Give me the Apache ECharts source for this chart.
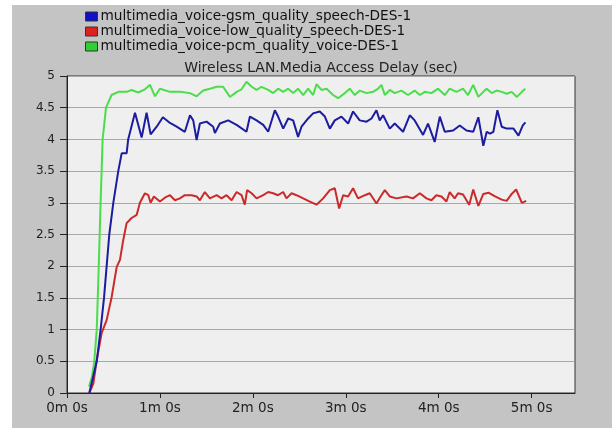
<!DOCTYPE html>
<html>
<head>
<meta charset="utf-8">
<script src="https://cdn.jsdelivr.net/npm/echarts@6/dist/echarts.min.js"></script>
<style>
html,body{margin:0;padding:0;background:#fff;}
#c{width:612px;height:428px;}
</style>
</head>
<body>
<div id="c"></div>
<script>
// ---- data (time in seconds, delay in seconds) ----
const seriesNames = [
  "multimedia_voice-gsm_quality_speech-DES-1",
  "multimedia_voice-low_quality_speech-DES-1",
  "multimedia_voice-pcm_quality_voice-DES-1"
];
const xTickValues = [0,60,120,180,240,300];
const xTickLabels = ["0m 0s","1m 0s","2m 0s","3m 0s","4m 0s","5m 0s"];
const yTickLabels = ["0","0.5","1","1.5","2","2.5","3","3.5","4","4.5","5"];

const gsmTime = [14.4,16.8,19.2,21.7,23.9,25.6,27.3,29.9,33.1,35.3,38.5,39.5,43.9,48.2,51.4,54.0,57.9,61.9,66.5,70.8,76.1,79.4,81.5,83.7,85.8,90.1,94.4,95.5,98.7,104.1,109.5,115.9,118.1,122.4,126.7,129.9,134.2,136.3,139.6,142.8,146.0,149.2,151.4,155.7,158.9,163.2,166.5,169.7,172.9,177.2,181.5,184.7,189.0,193.4,196.6,199.8,201.9,204.1,208.4,211.6,217.0,221.3,224.5,229.9,233.1,237.4,240.7,243.9,249.3,253.6,257.9,262.3,265.6,268.8,271.0,273.1,275.3,277.9,280.7,283.9,288.3,291.5,294.3,296.0];
const gsmDelay = [0,0.25,0.5,1.0,1.5,2.0,2.5,3.0,3.5,3.78,3.78,4.0,4.42,4.03,4.42,4.08,4.2,4.35,4.26,4.2,4.12,4.38,4.3,3.99,4.25,4.28,4.2,4.1,4.25,4.3,4.23,4.12,4.36,4.3,4.23,4.12,4.46,4.36,4.17,4.33,4.3,4.04,4.2,4.33,4.41,4.44,4.36,4.17,4.3,4.36,4.25,4.44,4.3,4.28,4.33,4.46,4.3,4.38,4.17,4.25,4.12,4.38,4.3,4.07,4.25,3.96,4.36,4.12,4.14,4.22,4.14,4.12,4.35,3.9,4.12,4.09,4.12,4.46,4.2,4.17,4.17,4.06,4.22,4.27];

const lowTime = [14.4,17.0,19.2,22.4,25.6,28.8,32.1,34.2,36.3,38.5,41.7,45.0,47.1,50.3,52.5,54.0,56.1,60.0,63.2,66.5,69.7,72.9,76.1,80.5,83.7,85.8,89.0,92.3,96.6,99.8,103.0,106.3,109.5,112.7,114.8,116.3,119.2,122.4,126.7,129.9,133.1,136.3,139.6,141.7,145.0,148.2,152.5,156.8,161.1,165.4,169.7,172.9,175.7,178.3,181.5,184.7,187.9,192.3,195.5,199.8,203.0,205.2,208.4,212.7,219.2,223.4,227.8,232.1,235.3,238.5,241.8,245.0,247.1,250.3,252.5,255.7,259.7,262.3,265.6,268.8,272.1,276.4,280.7,283.9,287.1,290.0,293.7,296.5];
const lowDelay = [0,0.15,0.52,0.95,1.15,1.51,1.99,2.1,2.41,2.68,2.76,2.81,3.0,3.15,3.12,3.0,3.1,3.02,3.08,3.12,3.04,3.07,3.12,3.12,3.1,3.04,3.17,3.07,3.12,3.07,3.12,3.04,3.17,3.12,2.97,3.2,3.15,3.07,3.12,3.17,3.15,3.12,3.17,3.07,3.15,3.12,3.07,3.02,2.97,3.07,3.2,3.23,2.91,3.12,3.1,3.23,3.07,3.12,3.15,2.99,3.12,3.2,3.1,3.07,3.1,3.07,3.15,3.07,3.04,3.12,3.1,3.02,3.17,3.07,3.15,3.13,2.97,3.21,2.95,3.14,3.16,3.1,3.05,3.03,3.14,3.21,3.0,3.03];

const pcmTime = [14.2,16.1,17.6,19.2,20.5,21.7,23.0,25.2,28.8,33.1,38.5,41.7,46.0,50.3,53.6,56.8,60.0,66.5,72.9,79.4,83.7,87.9,92.3,96.6,100.8,105.2,109.5,112.7,115.9,119.2,122.4,125.6,129.9,133.1,136.3,139.6,142.8,146.0,149.2,152.5,155.7,158.9,161.1,164.3,167.6,171.8,175.0,179.4,182.6,185.8,189.0,193.4,197.6,200.9,203.0,205.2,208.4,211.6,215.9,220.2,224.5,227.8,231.0,235.3,239.6,243.9,247.1,251.4,255.7,258.9,262.3,265.6,268.8,271.0,274.2,277.4,280.7,283.9,287.1,290.5,293.7,295.9];
const pcmDelay = [0.1,0.25,0.5,1.0,2.0,3.0,4.0,4.5,4.7,4.75,4.75,4.78,4.74,4.79,4.86,4.68,4.8,4.75,4.75,4.73,4.68,4.77,4.8,4.83,4.83,4.67,4.75,4.79,4.91,4.83,4.78,4.83,4.78,4.73,4.8,4.75,4.8,4.73,4.8,4.7,4.8,4.7,4.87,4.78,4.8,4.7,4.65,4.73,4.8,4.7,4.77,4.73,4.75,4.8,4.86,4.7,4.78,4.73,4.77,4.7,4.77,4.7,4.75,4.73,4.8,4.7,4.8,4.75,4.8,4.7,4.86,4.67,4.75,4.8,4.73,4.77,4.75,4.72,4.75,4.67,4.75,4.8];

const lineColors = ["#1c1ca0", "#cc2a2a", "#4ade4a"];
const legendColors = ["#1010c8", "#e02020", "#30d030"];

function zip(t, v){ return t.map((x,i)=>[x, v[i]]); }

const chart = echarts.init(document.getElementById('c'), null, {renderer:'canvas'});
const FONT = '"DejaVu Sans", Verdana, sans-serif';

chart.setOption({
  backgroundColor: '#ffffff',
  animation: false,
  graphic: [{
    type: 'rect', z: -10, silent: true,
    shape: {x: 12, y: 5, width: 600, height: 423},
    style: {fill: '#c4c4c4'}
  }],
  title: {
    text: 'Wireless LAN.Media Access Delay (sec)',
    left: 321, top: 61, textAlign: 'center', padding: 0,
    textStyle: {fontFamily: FONT, fontSize: 14, fontWeight: 'normal', color: '#222', lineHeight: 14}
  },
  legend: {
    orient: 'vertical', left: 85, top: 9, padding: 0,
    itemWidth: 12, itemHeight: 9, itemGap: 0,
    icon: 'rect',
    textStyle: {fontFamily: FONT, fontSize: 13.7, color: '#111', lineHeight: 15, padding: [0,0,0,-2]},
    data: seriesNames.map((n,i)=>({name: n, itemStyle: {color: legendColors[i], borderColor: '#333', borderWidth: 1}}))
  },
  grid: {
    left: 67, right: 37, top: 76, bottom: 35,
    show: true, backgroundColor: '#efefef', borderColor: '#333', borderWidth: 1
  },
  xAxis: {
    type: 'value', min: 0, max: 328, interval: 60,
    axisLine: {show: true, lineStyle: {color: '#222'}},
    axisTick: {show: true, length: 5, customValues: xTickValues, lineStyle: {color: '#222'}},
    splitLine: {show: false},
    axisLabel: {
      fontFamily: FONT, fontSize: 13.5, color: '#222', margin: 8,
      customValues: xTickValues,
      formatter: v => xTickLabels[Math.round(v/60)]
    }
  },
  yAxis: {
    type: 'value', min: 0, max: 5, interval: 0.5,
    axisLine: {show: true, lineStyle: {color: '#222'}},
    axisTick: {show: true, length: 7, lineStyle: {color: '#222'}},
    splitLine: {show: true, lineStyle: {color: '#a8a8a8', width: 1}},
    axisLabel: {
      fontFamily: FONT, fontSize: 12, color: '#222', margin: 12,
      formatter: v => yTickLabels[Math.round(v*2)]
    }
  },
  series: [
    {name: seriesNames[0], type: 'line', data: zip(gsmTime, gsmDelay), showSymbol: false, lineStyle: {color: lineColors[0], width: 2}, itemStyle:{color: legendColors[0]}, z: 3},
    {name: seriesNames[1], type: 'line', data: zip(lowTime, lowDelay), showSymbol: false, lineStyle: {color: lineColors[1], width: 2}, itemStyle:{color: legendColors[1]}, z: 2},
    {name: seriesNames[2], type: 'line', data: zip(pcmTime, pcmDelay), showSymbol: false, lineStyle: {color: lineColors[2], width: 2}, itemStyle:{color: legendColors[2]}, z: 1}
  ]
});
</script>
</body>
</html>
